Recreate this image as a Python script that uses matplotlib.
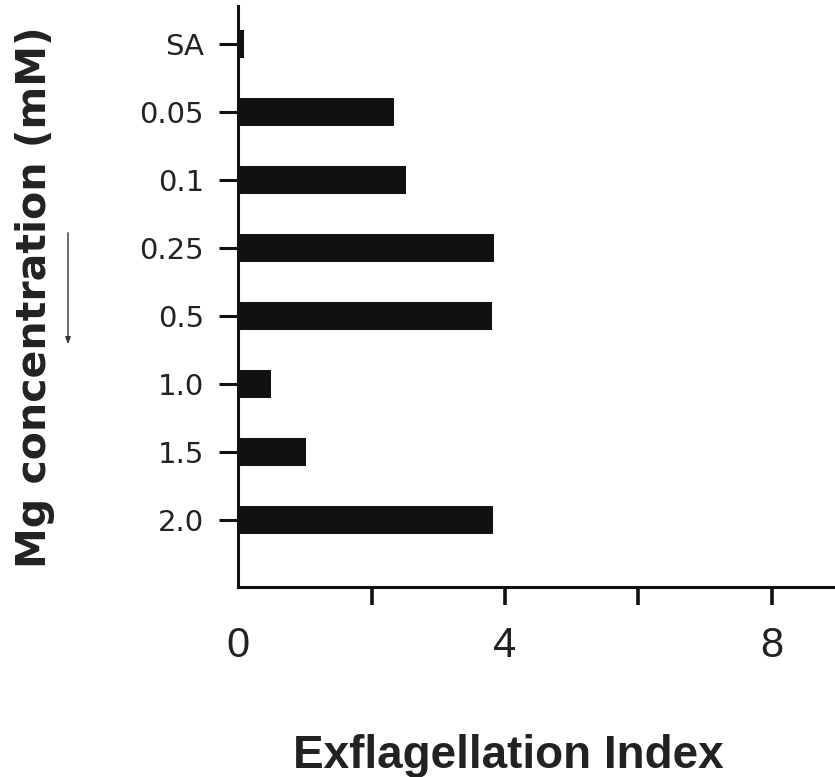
import matplotlib
matplotlib.use("Agg")
import matplotlib.pyplot as plt

categories = ["SA", "0.05", "0.1", "0.25", "0.5", "1.0", "1.5", "2.0"]
values = [0.085, 2.33, 2.51, 3.83, 3.81, 0.49, 1.02, 3.82]
xticks = [0, 2, 4, 6, 8]
xticklabels = ["0", "", "4", "", "8"]

fig = plt.figure(figsize=(8.35, 7.77), dpi=100)
ax = fig.add_axes([0.2854, 0.2445, 0.7146, 0.7475])

pos = list(range(len(categories)))
ax.barh(pos, values, height=0.41, color="#111111", align="center")
ax.set_ylim(7.99, -0.56)
ax.set_xlim(0, 8.95)

for s in ["top", "right"]:
    ax.spines[s].set_visible(False)
for s in ["left", "bottom"]:
    ax.spines[s].set_linewidth(2.2)
    ax.spines[s].set_color("#111111")

ax.set_yticks(pos)
ax.set_yticklabels(categories, fontsize=21, family=["DejaVu Sans"], color="#222222")
ax.tick_params(axis="y", direction="out", length=13.7, width=2.2, pad=11, colors="#111111")
for lab in ax.get_yticklabels():
    lab.set_color("#222222")

ax.set_xticks(xticks)
ax.set_xticklabels(xticklabels, fontsize=30, family=["Liberation Sans", "DejaVu Sans"],
                   color="#222222")
ax.tick_params(axis="x", direction="out", length=13, width=2.6, pad=15, colors="#111111")
for lab in ax.get_xticklabels():
    lab.set_color("#222222")
ax.xaxis.get_major_ticks()[0].tick1line.set_visible(False)

fig.text(0.609, 0.0116, "Exflagellation Index", ha="center", va="baseline",
         fontsize=33, fontweight="bold",
         family=["Liberation Sans", "DejaVu Sans"], color="#222222")
fig.text(0.042, 0.618, "Mg concentration (mM)", ha="center", va="center", rotation=90,
         fontsize=29.5, fontweight="bold",
         family=["DejaVu Sans"], color="#222222")

# thin arrow line at left
fig.add_artist(matplotlib.patches.FancyArrowPatch((68/835, 1-230/777), (68/835, 1-347/777),
               transform=fig.transFigure, arrowstyle="-|>,head_length=4,head_width=1.5",
               color="#333333", lw=1.0))

fig.savefig("out.png", dpi=100)
